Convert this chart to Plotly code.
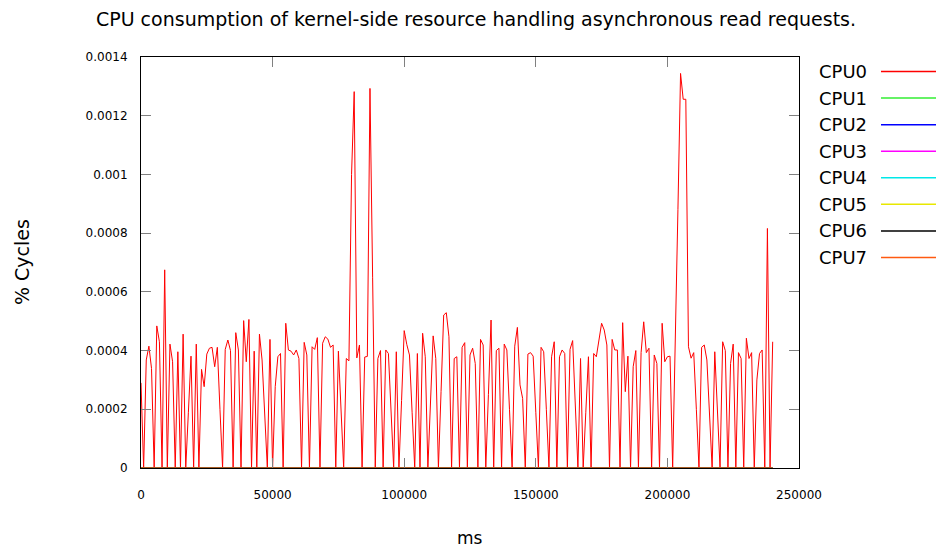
import plotly.graph_objects as go

# ---------------- data ----------------
TITLE = "CPU consumption of kernel-side resource handling asynchronous read requests."
X_LABEL = "ms"
Y_LABEL = "% Cycles"

SAMPLE_START_MS = 0
SAMPLE_STEP_MS = 1000

# CPU0 values in units of 1e-4 (% cycles)
cpu0_e4 = [
    2.9, 0, 3.68, 4.15, 3.39, 0, 4.84, 4.30, 0, 6.75,
    0, 4.22, 3.62, 0, 3.96, 0, 4.56, 0, 1.9, 3.81,
    0, 4.22, 0, 3.36, 2.77, 3.88, 4.08, 4.11, 3.45, 4.11,
    2.0, 0, 4.04, 4.36, 4.0, 0, 4.61, 4.02, 0, 5.02,
    3.62, 5.06, 0, 3.98, 0, 4.56, 3.68, 1.86, 0, 4.38,
    0, 2.77, 3.79, 3.90, 0, 4.93, 4.02, 3.98, 3.85, 4.02,
    3.73, 0, 4.28, 3.85, 0, 4.13, 4.04, 4.44, 0, 4.25,
    4.47, 4.39, 4.11, 4.19, 0, 3.98, 2.0, 0, 3.73, 3.65,
    10.0, 12.82, 3.75, 4.19, 0, 3.78, 3.80, 12.93, 6.5, 0,
    3.73, 4.0, 0, 4.02, 3.90, 2.0, 0, 3.96, 0, 2.3,
    4.68, 4.2, 3.85, 1.9, 0, 3.9, 0, 4.59, 3.79, 0,
    2.2, 4.5, 3.73, 0, 2.6, 5.21, 5.29, 4.47, 0, 3.73,
    3.79, 0, 4.11, 4.27, 0, 3.85, 4.08, 3.56, 0, 4.38,
    4.19, 0, 2.5, 5.04, 0, 4.0, 4.08, 0, 4.22, 4.02,
    2.0, 0, 4.15, 4.79, 2.83, 2.37, 0, 3.88, 3.93, 3.81,
    1.9, 0, 4.11, 3.96, 2.0, 0, 3.79, 4.30, 0, 3.79,
    4.02, 3.9, 0, 4.04, 4.34, 2.2, 0, 3.73, 0, 1.9,
    3.79, 0, 3.9, 3.79, 4.3, 4.93, 4.70, 4.19, 0, 4.38,
    4.02, 4.02, 0, 4.95, 2.6, 3.81, 0, 3.45, 4.0, 0,
    3.93, 4.98, 3.93, 4.08, 0, 3.85, 3.56, 0, 4.93, 3.62,
    3.79, 3.81, 0, 4.0, 8.8, 13.44, 12.56, 12.56, 4.13, 3.74,
    3.93, 2.0, 0, 4.11, 4.19, 3.68, 1.9, 0, 3.96, 2.0,
    0, 4.30, 4.0, 0, 3.56, 4.22, 0, 3.93, 3.73, 0,
    4.42, 3.73, 3.93, 0, 3.0, 3.9, 4.02, 0, 8.16, 0,
    4.30,
]
UNIT = 1e-4

series_names = ["CPU0", "CPU1", "CPU2", "CPU3", "CPU4", "CPU5", "CPU6", "CPU7"]
series_colors = ["#ff0000", "#33ee33", "#0000ff", "#ff00ff",
                 "#00e8e8", "#e8e800", "#000000", "#ff5a10"]

x_tick_vals = [0, 50000, 100000, 150000, 200000, 250000]
x_tick_text = ["0", "50000", "100000", "150000", "200000", "250000"]
y_tick_vals = [0, 0.0002, 0.0004, 0.0006, 0.0008, 0.001, 0.0012, 0.0014]
y_tick_text = ["0", "0.0002", "0.0004", "0.0006", "0.0008", "0.001", "0.0012", "0.0014"]

# ---------------- build ----------------
n = len(cpu0_e4)
xs = [SAMPLE_START_MS + k * SAMPLE_STEP_MS for k in range(n)]
cpu0 = [v * UNIT for v in cpu0_e4]
zeros = [0.0] * n
series_values = [cpu0] + [zeros] * 7

FONT = "DejaVu Sans"
OFF = 8                     # default page body margin
W, H = 944 - OFF, 549 - OFF
L, R, T, B = 141 - OFF, 145, 57 - OFF, 81
PW, PH = W - L - R, H - T - B

fig = go.Figure()
for name, col, vals in zip(series_names, series_colors, series_values):
    fig.add_trace(go.Scatter(x=xs, y=vals, mode="lines", name=name,
                             line=dict(color=col, width=1), showlegend=False))

def px_to_paper_x(px):
    return (px - OFF - L) / PW

def py_to_paper_y(py):
    return (T + PH - (py - OFF)) / PH

# custom legend: text then line sample (gnuplot style)
LEG_TEXT_RIGHT = 869
LEG_LINE_X0, LEG_LINE_X1 = 881, 940
LEG_Y0, LEG_DY = 71.5, 26.57
annotations = []
shapes = []
for k, (name, col) in enumerate(zip(series_names, series_colors)):
    yy = py_to_paper_y(LEG_Y0 + k * LEG_DY)
    annotations.append(dict(text=name, x=px_to_paper_x(LEG_TEXT_RIGHT), y=yy,
                            xref="paper", yref="paper", xanchor="right", yanchor="middle",
                            showarrow=False, font=dict(family=FONT, size=18, color="#000")))
    shapes.append(dict(type="line", xref="paper", yref="paper",
                       x0=px_to_paper_x(LEG_LINE_X0), x1=px_to_paper_x(LEG_LINE_X1),
                       y0=yy, y1=yy, line=dict(color=col, width=1.5)))

annotations.append(dict(text=X_LABEL, x=px_to_paper_x(470), y=py_to_paper_y(538),
                        xref="paper", yref="paper", xanchor="center", yanchor="middle",
                        showarrow=False, font=dict(family=FONT, size=17, color="#000")))
annotations.append(dict(text=Y_LABEL, x=px_to_paper_x(22), y=py_to_paper_y(262),
                        xref="paper", yref="paper", xanchor="center", yanchor="middle",
                        textangle=-90, showarrow=False,
                        font=dict(family=FONT, size=19, color="#000")))

axis_common = dict(showgrid=False, zeroline=False, showline=True, linecolor="#000",
                   linewidth=1, mirror="allticks", ticks="inside", ticklen=10,
                   tickcolor="#808080", tickwidth=1,
                   tickfont=dict(family=FONT, size=12, color="#000"))

fig.update_layout(
    width=W, height=H,
    margin=dict(l=L, r=R, t=T, b=B),
    paper_bgcolor="#ffffff", plot_bgcolor="#ffffff",
    title=dict(text=TITLE, x=(476 - OFF) / W, y=1 - (19.5 - OFF) / H,
               xref="container", yref="container",
               xanchor="center", yanchor="middle",
               font=dict(family=FONT, size=19, color="#000")),
    xaxis=dict(range=[0, 250000], tickmode="array", tickvals=x_tick_vals,
               ticktext=x_tick_text, ticklabelstandoff=16, **axis_common),
    yaxis=dict(range=[0, 0.0014], tickmode="array", tickvals=y_tick_vals,
               ticktext=y_tick_text, ticklabelstandoff=10, **axis_common),
    annotations=annotations,
    shapes=shapes,
    showlegend=False,
)

fig.write_html("out.html")
